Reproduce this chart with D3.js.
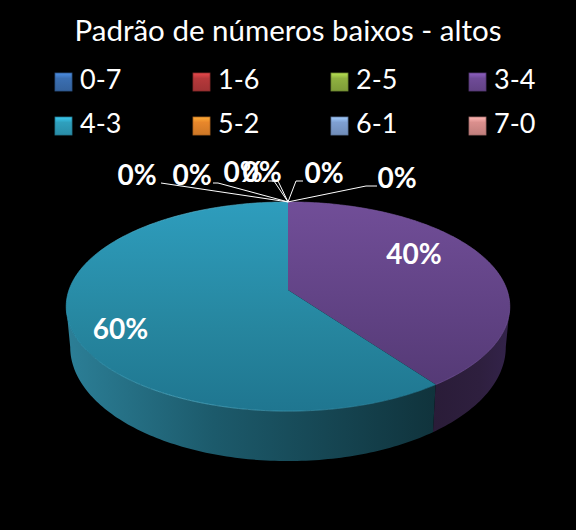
<!DOCTYPE html>
<html>
<head>
<meta charset="utf-8">
<script src="https://cdn.jsdelivr.net/npm/d3@7"></script>
<style>
  html, body { margin: 0; padding: 0; background: #000; }
  svg { display: block; }
  text { font-family: Lato, sans-serif; fill: #fff; }
</style>
</head>
<body>
<div id="chart"></div>
<script>
const title = "Padrão de números baixos - altos";
const categories = ["0-7", "1-6", "2-5", "3-4", "4-3", "5-2", "6-1", "7-0"];
const values = [0, 0, 0, 2, 3, 0, 0, 0];
const swatchColors = ["#3b6fb2", "#b6393b", "#8fb140", "#6f4b97", "#2fa0bd", "#e8872b", "#7fa0d2", "#da8f8d"];

const width = 576, height = 530;
const svg = d3.select("#chart").append("svg").attr("width", width).attr("height", height);
svg.append("rect").attr("width", width).attr("height", height).attr("fill", "#000");
const defs = svg.append("defs");

function gradient(id, x2, y2, stops) {
  const g = defs.append("linearGradient").attr("id", id)
    .attr("x1", 0).attr("y1", 0).attr("x2", x2).attr("y2", y2);
  stops.forEach(s => g.append("stop").attr("offset", s[0]).attr("stop-color", s[1]));
  return "url(#" + id + ")";
}

// title
svg.append("text").attr("x", 288).attr("y", 41).attr("text-anchor", "middle")
  .attr("font-size", 29.5).text(title);

// legend
const legendX = d3.scalePoint().domain(d3.range(4)).range([55, 469]);
const legendY = d3.scalePoint().domain(d3.range(2)).range([73, 117]);
const legend = svg.append("g").selectAll("g").data(categories).join("g")
  .attr("transform", (d, i) => `translate(${legendX(i % 4)},${legendY(Math.floor(i / 4))})`);
legend.append("rect").attr("width", 17).attr("height", 18)
  .attr("fill", (d, i) => {
    const c = d3.color(swatchColors[i]);
    return gradient("sw" + i, 0, 1, [[0, c.brighter(0.7)], [0.3, c], [1, c.darker(0.35)]]);
  })
  .attr("stroke", (d, i) => d3.color(swatchColors[i]).darker(0.8)).attr("stroke-width", 0.8);
legend.append("text").attr("x", 25).attr("y", 16).attr("font-size", 27).text(d => d);

// the pie is a disc seen in perspective, so the centre sits above the middle of the ellipse
const apexX = 288, apexY = 290, tilt = 0.158;
const px = d3.scaleLinear().domain([-1, 1]).range([-219, 219]);
const py = d3.scaleLinear().domain([-1, 1]).range([-102, 102]);
// the lower rim is a slightly narrower, taller ellipse
const midY = 306.5, lowerMidY = 347, lowerX = 0.982, lowerY = 1.09;

function project(a, lower) {
  const w = 1 + tilt * Math.cos(a);
  const sx = px(Math.sin(a) / w);
  const y = apexY + py(-Math.cos(a) / w);
  if (!lower) return [apexX + sx, y];
  return [apexX + sx * lowerX, lowerMidY + (y - midY) * lowerY];
}

const total = d3.sum(values);
const arcs = d3.pie().sort(null).value(d => d)(values);
const line = d3.line();
const STEP = Math.PI / 180;

function rim(a0, a1, lower) {
  const n = Math.max(1, Math.ceil((a1 - a0) / STEP));
  return d3.range(n + 1).map(i => project(a0 + (a1 - a0) * i / n, lower));
}

const topFill = {
  3: gradient("top3", 0, 1, [[0, "#714e98"], [1, "#553a76"]]),
  4: gradient("top4", 0, 1, [[0, "#2e9dbd"], [0.6, "#26869f"], [1, "#1f7690"]])
};
const wallFill = {
  3: gradient("wall3", 1, 0, [[0, "#2a1c38"], [0.6, "#2e1f3e"], [1, "#33234a"]]),
  4: gradient("wall4", 1, 0, [[0, "#2c7f97"], [0.4, "#1c5a6b"], [1, "#10333c"]])
};
const edgeFill = gradient("edge4", 1, 0, [[0, "#2e9dbd"], [0.3, "#5cbcd6"], [1, "#1f7690"]]);

const pieG = svg.append("g");
const drawn = arcs.map((d, i) => ({ d, i })).filter(o => o.d.value > 0);

// only the front of the rim shows, between the widest points of the ellipse
const frontStart = Math.acos(-tilt), frontEnd = 2 * Math.PI - frontStart;

// side wall
pieG.selectAll("path.wall").data(drawn).join("path").attr("class", "wall")
  .attr("d", o => {
    const a0 = Math.max(o.d.startAngle, frontStart), a1 = Math.min(o.d.endAngle, frontEnd);
    const up = rim(a0, a1, false);
    const low = rim(a0, a1, true).reverse();
    return line(up.concat(low)) + "Z";
  })
  .attr("fill", o => wallFill[o.i]);

// top face
pieG.selectAll("path.top").data(drawn).join("path").attr("class", "top")
  .attr("d", o => line([[apexX, apexY]].concat(rim(o.d.startAngle, o.d.endAngle, false))) + "Z")
  .attr("fill", o => topFill[o.i]);

// faint light edge on the rim
pieG.selectAll("path.edge").data(drawn).join("path").attr("class", "edge")
  .attr("d", o => line(rim(o.d.startAngle, o.d.endAngle, false)))
  .attr("fill", "none").attr("stroke", o => o.i === 4 ? edgeFill : "#7a58a2")
  .attr("stroke-opacity", 0.7).attr("stroke-width", 0.9);

// percentage labels
const pct = d => Math.round(d.value / total * 100) + "%";
const labelFont = 28;
const bigPos = { 3: [414, 264], 4: [120.5, 339] };
const zeroPos = { 0: [324, 181, [[303, 181], [296, 181]]],
                  1: [397, 186, [[377, 186], [366, 186]]],
                  2: [262, 180, [[272, 181], [278, 181]]],
                  5: [137, 183, [[161, 183]]],
                  6: [192, 183, [[213, 183], [218, 183]]],
                  7: [243, 180, [[268, 181], [274, 181]]] };

const zeroLabels = arcs.map((d, i) => ({ d, i })).filter(o => o.d.value === 0);
const labelG = svg.append("g");
labelG.selectAll("path").data(zeroLabels).join("path")
  .attr("d", o => line(zeroPos[o.i][2].concat([project(0, false)])))
  .attr("fill", "none").attr("stroke", "#fff").attr("stroke-width", 1);
labelG.selectAll("text.zero").data(zeroLabels).join("text").attr("class", "zero")
  .attr("x", o => zeroPos[o.i][0]).attr("y", o => zeroPos[o.i][1] + 2)
  .attr("text-anchor", "middle").attr("font-weight", 700).attr("font-size", labelFont)
  .text(o => pct(o.d));
labelG.selectAll("text.big").data(drawn).join("text").attr("class", "big")
  .attr("x", o => bigPos[o.i][0]).attr("y", o => bigPos[o.i][1])
  .attr("text-anchor", "middle").attr("font-weight", 700).attr("font-size", labelFont)
  .text(o => pct(o.d));
</script>
</body>
</html>
